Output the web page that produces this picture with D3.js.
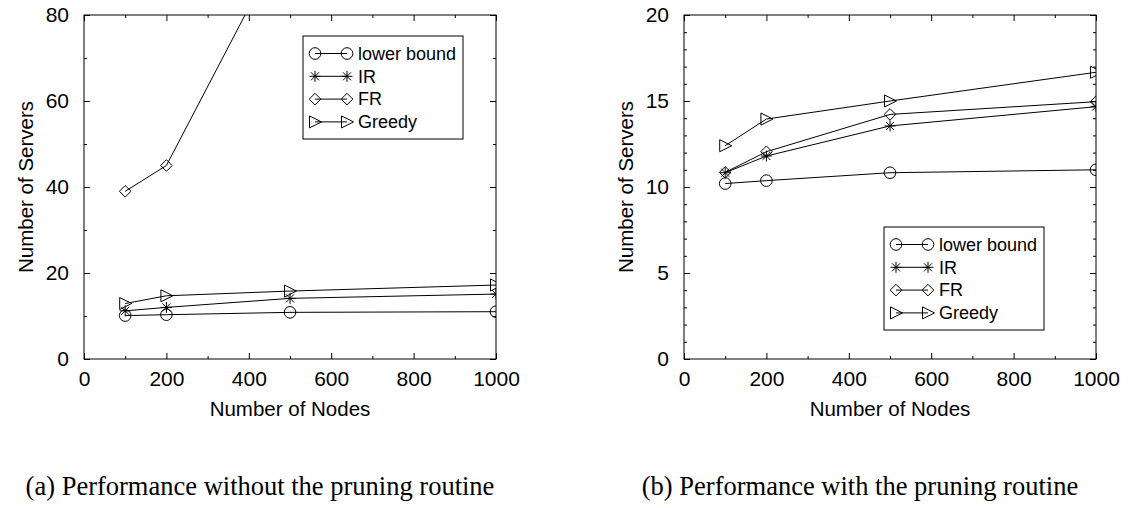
<!DOCTYPE html>
<html>
<head>
<meta charset="utf-8">
<script src="https://cdn.jsdelivr.net/npm/d3@7"></script>
<style>
  body { margin: 0; background: #fff; }
  svg { display: block; }
</style>
</head>
<body>
<div id="figure"></div>
<script>
// x values: number of nodes in the network
const nodes = [100, 200, 500, 1000];

// servers placed without the pruning routine
const noPruneLower = [10.1, 10.3, 10.85, 11.0];
const noPruneIR = [11.2, 12.0, 14.1, 15.1];
const noPruneFR = [39.0, 45.0, 100, 190];
const noPruneGreedy = [12.9, 14.7, 15.8, 17.2];

// servers placed with the pruning routine
const prunedLower = [10.2, 10.37, 10.83, 11.0];
const prunedIR = [10.83, 11.8, 13.55, 14.67];
const prunedFR = [10.85, 12.05, 14.22, 14.96];
const prunedGreedy = [12.4, 13.95, 15.0, 16.67];

const seriesNames = ["lower bound", "IR", "FR", "Greedy"];
const seriesMarkers = ["circle", "star", "diamond", "triangle"];

const xTicks = [0, 200, 400, 600, 800, 1000];
const xMinorTicks = [100, 300, 500, 700, 900];
const yTicksA = [0, 20, 40, 60, 80];
const yMinorTicksA = [10, 30, 50, 70];
const yTicksB = [0, 5, 10, 15, 20];
const yMinorTicksB = [1, 2, 3, 4, 6, 7, 8, 9, 11, 12, 13, 14, 16, 17, 18, 19];

const captions = [
  "(a) Performance without the pruning routine",
  "(b) Performance with the pruning routine",
];

const SANS = "'Liberation Sans', Arial, sans-serif";
const SERIF = "'Liberation Serif', 'Times New Roman', serif";

// gnuplot-style point shapes, hollow
const markerPath = {
  circle: "M-5.8,0a5.8,5.8 0 1,0 11.6,0a5.8,5.8 0 1,0 -11.6,0",
  diamond: "M0,-5.8L5.8,0L0,5.8L-5.8,0Z",
  triangle: "M-5.5,-6L6.5,0L-5.5,6Z",
  star: "M0,-5.5V5.5M-5.5,0H5.5M-4,-4L4,4M-4,4L4,-4",
};

const svg = d3
  .select("#figure")
  .append("svg")
  .attr("width", 1131)
  .attr("height", 508)
  .style("background", "#fff");

function drawPanel(cfg) {
  const g = svg
    .append("g")
    .attr("transform", `translate(${cfg.left},${cfg.top})`);

  const x = d3.scaleLinear().domain([0, 1000]).range([0, cfg.width]);
  const y = d3.scaleLinear().domain(cfg.yDomain).range([cfg.height, 0]);

  // inward ticks on all four sides, majors and minors
  const axes = [
    [d3.axisBottom(x), cfg.height, "x"],
    [d3.axisTop(x), 0, "x"],
    [d3.axisLeft(y), 0, "y"],
    [d3.axisRight(y), cfg.width, "y"],
  ];
  axes.forEach(([axis, offset, dim], i) => {
    const isX = dim === "x";
    const majors = isX ? xTicks : cfg.yTicks;
    const minors = isX ? xMinorTicks : cfg.yMinorTicks;
    const labelled = i === 0 || i === 2;
    const pos = isX ? `translate(0,${offset})` : `translate(${offset},0)`;

    g.append("g")
      .attr("transform", pos)
      .call(
        axis
          .tickValues(majors)
          .tickSizeInner(-6)
          .tickSizeOuter(0)
          .tickPadding(isX ? 12 : 15)
          .tickFormat(labelled ? d3.format("d") : () => "")
      )
      .call((a) => a.select(".domain").remove())
      .call((a) =>
        a
          .selectAll("text")
          .attr("fill", "#000")
          .style("font-family", SANS)
          .style("font-size", "21px")
      );

    g.append("g")
      .attr("transform", pos)
      .call(
        axis.tickValues(minors).tickSizeInner(-3).tickFormat(() => "")
      )
      .call((a) => a.select(".domain").remove());
  });

  // plot frame
  g.append("rect")
    .attr("width", cfg.width)
    .attr("height", cfg.height)
    .attr("fill", "none")
    .attr("stroke", "#000")
    .attr("stroke-width", 1);

  // axis titles
  g.append("text")
    .attr("x", cfg.width / 2)
    .attr("y", cfg.height + 57)
    .attr("text-anchor", "middle")
    .style("font-family", SANS)
    .style("font-size", "20.5px")
    .text("Number of Nodes");

  g.append("text")
    .attr("transform", "rotate(-90)")
    .attr("x", -cfg.height / 2)
    .attr("y", -51)
    .attr("text-anchor", "middle")
    .style("font-family", SANS)
    .style("font-size", "20.5px")
    .text("Number of Servers");

  // clip the curves to the plotting area
  g.append("clipPath")
    .attr("id", cfg.id)
    .append("rect")
    .attr("width", cfg.width)
    .attr("height", cfg.height);

  const plot = g.append("g").attr("clip-path", `url(#${cfg.id})`);
  const line = d3
    .line()
    .x((d) => x(d.n))
    .y((d) => y(d.v));

  cfg.series.forEach((values, s) => {
    const pts = nodes.map((n, i) => ({ n, v: values[i] }));
    plot
      .append("path")
      .datum(pts)
      .attr("d", line)
      .attr("fill", "none")
      .attr("stroke", "#000")
      .attr("stroke-width", 1);

    plot
      .selectAll(null)
      .data(pts)
      .join("path")
      .attr("transform", (d) => `translate(${x(d.n)},${y(d.v)})`)
      .attr("d", markerPath[seriesMarkers[s]])
      .attr("fill", "none")
      .attr("stroke", "#000")
      .attr("stroke-width", 1);
  });

  // legend box
  const leg = g
    .append("g")
    .attr("transform", `translate(${cfg.legendX},${cfg.legendY})`);
  leg
    .append("rect")
    .attr("width", 160)
    .attr("height", 103)
    .attr("fill", "#fff")
    .attr("stroke", "#000")
    .attr("stroke-width", 1);

  seriesNames.forEach((name, s) => {
    const ry = 17.5 + s * 22.8;
    leg
      .append("line")
      .attr("x1", 12)
      .attr("x2", 44)
      .attr("y1", ry)
      .attr("y2", ry)
      .attr("stroke", "#000")
      .attr("stroke-width", 1);
    [12, 44].forEach((mx) => {
      leg
        .append("path")
        .attr("transform", `translate(${mx},${ry})`)
        .attr("d", markerPath[seriesMarkers[s]])
        .attr("fill", "none")
        .attr("stroke", "#000")
        .attr("stroke-width", 1);
    });
    leg
      .append("text")
      .attr("x", 55)
      .attr("y", ry)
      .attr("dy", "0.35em")
      .style("font-family", SANS)
      .style("font-size", "18px")
      .text(name);
  });

  // sub-figure caption
  svg
    .append("text")
    .attr("x", cfg.captionX)
    .attr("y", 495)
    .attr("text-anchor", "middle")
    .style("font-family", SERIF)
    .style("font-size", "26.5px")
    .text(cfg.caption);
}

drawPanel({
  id: "clip-a",
  left: 84,
  top: 15,
  width: 412,
  height: 344,
  yDomain: [0, 80],
  yTicks: yTicksA,
  yMinorTicks: yMinorTicksA,
  series: [noPruneLower, noPruneIR, noPruneFR, noPruneGreedy],
  legendX: 219,
  legendY: 21,
  caption: captions[0],
  captionX: 260,
});

drawPanel({
  id: "clip-b",
  left: 684,
  top: 15,
  width: 412,
  height: 344,
  yDomain: [0, 20],
  yTicks: yTicksB,
  yMinorTicks: yMinorTicksB,
  series: [prunedLower, prunedIR, prunedFR, prunedGreedy],
  legendX: 200,
  legendY: 212,
  caption: captions[1],
  captionX: 860,
});
</script>
</body>
</html>
